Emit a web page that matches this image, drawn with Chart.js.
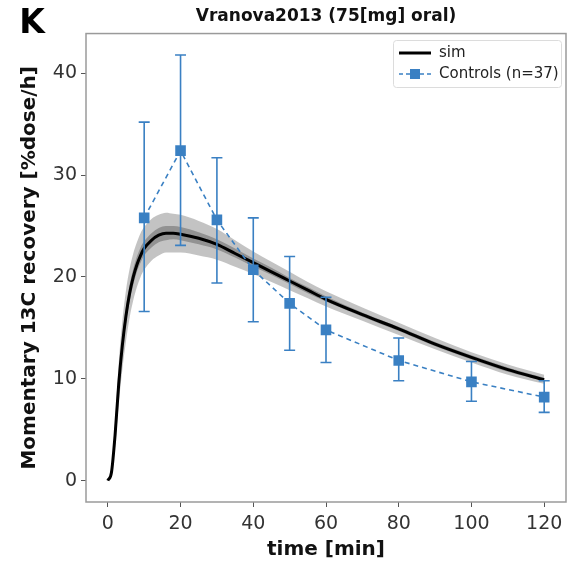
<!DOCTYPE html>
<html>
<head>
<meta charset="utf-8">
<script src="https://cdn.jsdelivr.net/npm/chart.js@4/dist/chart.umd.min.js"></script>
<style>
  html, body { margin: 0; padding: 0; background: #fff; }
  #wrap { width: 574px; height: 563px; }
</style>
</head>
<body>
<div id="wrap"><canvas id="chart" width="574" height="563"></canvas></div>
<script>
// Controls (n=37): measured points with error bars
const obsTime = [10, 20, 30, 40, 50, 60, 80, 100, 120];
const obsMean = [25.8, 32.4, 25.6, 20.7, 17.4, 14.8, 11.8, 9.7, 8.2];
const obsLow  = [16.6, 23.1, 19.4, 15.6, 12.8, 11.6, 9.8, 7.8, 6.7];
const obsHigh = [35.2, 41.8, 31.7, 25.8, 22.0, 18.0, 14.0, 11.7, 9.8];

// sim: mean curve and two shaded bands
const simTime = [0, 1, 2, 3, 4, 5, 6, 7, 8, 9, 10, 12, 14, 16, 18, 20, 25, 30, 35, 40, 45, 50, 55, 60, 70, 80, 90, 100, 110, 120];
const simMean = [0, 0.8, 4.5, 9.5, 13.3, 16.2, 18.4, 20.0, 21.2, 22.1, 22.8, 23.6, 24.1, 24.3, 24.3, 24.2, 23.8, 23.2, 22.3, 21.4, 20.5, 19.6, 18.7, 17.8, 16.3, 14.9, 13.4, 12.1, 10.9, 9.9];
const simOuterHi = [0, 1.1, 5.7, 11.5, 15.7, 18.7, 20.8, 22.3, 23.4, 24.3, 24.9, 25.7, 26.1, 26.3, 26.2, 26.1, 25.5, 24.7, 23.6, 22.5, 21.5, 20.5, 19.5, 18.6, 17.0, 15.5, 14.0, 12.6, 11.4, 10.4];
const simOuterLo = [0, 0.5, 3.3, 7.5, 10.9, 13.7, 16.0, 17.7, 19.0, 20.0, 20.7, 21.6, 22.1, 22.4, 22.4, 22.4, 22.1, 21.7, 21.0, 20.3, 19.5, 18.7, 17.9, 17.1, 15.7, 14.3, 12.9, 11.6, 10.4, 9.5];
const simInnerHi = [0, 0.9, 4.9, 10.2, 14.1, 17.1, 19.2, 20.8, 22.0, 22.9, 23.5, 24.3, 24.8, 25.0, 25.0, 24.9, 24.4, 23.7, 22.8, 21.8, 20.9, 19.9, 19.0, 18.1, 16.5, 15.1, 13.6, 12.3, 11.1, 10.1];
const simInnerLo = [0, 0.7, 4.1, 8.8, 12.5, 15.4, 17.6, 19.2, 20.5, 21.4, 22.1, 22.9, 23.4, 23.6, 23.7, 23.6, 23.2, 22.7, 21.9, 21.0, 20.2, 19.3, 18.4, 17.6, 16.1, 14.7, 13.2, 11.9, 10.7, 9.8];

const xTicks = [0, 20, 40, 60, 80, 100, 120];
const yTicks = [0, 10, 20, 30, 40];

const BLUE = '#3a80c3';
const FONT = "'DejaVu Sans', sans-serif";

function pts(xs, ys) {
    return xs.map((x, i) => ({ x: x, y: ys[i] }));
}

function band(label, data, color, fill, order) {
    return {
        label: label,
        data: data,
        showLine: true,
        borderWidth: 0,
        borderColor: 'transparent',
        pointRadius: 0,
        backgroundColor: color,
        fill: fill,
        cubicInterpolationMode: 'monotone',
        order: order
    };
}

// frame, error bars, legend and panel letter
const extras = {
    id: 'extras',
    afterDatasetsDraw(chart) {
        const ctx = chart.ctx;
        const xs = chart.scales.x;
        const ys = chart.scales.y;
        ctx.save();
        ctx.strokeStyle = BLUE;
        ctx.lineWidth = 1.6;
        obsTime.forEach((t, i) => {
            const px = xs.getPixelForValue(t);
            const top = ys.getPixelForValue(obsHigh[i]);
            const bot = ys.getPixelForValue(obsLow[i]);
            ctx.beginPath();
            ctx.moveTo(px, top); ctx.lineTo(px, bot);
            ctx.moveTo(px - 5.5, top); ctx.lineTo(px + 5.5, top);
            ctx.moveTo(px - 5.5, bot); ctx.lineTo(px + 5.5, bot);
            ctx.stroke();
        });
        ctx.restore();
    },
    afterDraw(chart) {
        const ctx = chart.ctx;
        const a = chart.chartArea;
        ctx.save();
        // axes frame
        ctx.strokeStyle = '#9a9a9a';
        ctx.lineWidth = 1.5;
        ctx.strokeRect(a.left, a.top, a.right - a.left, a.bottom - a.top);

        // legend
        const lx = 393, ly = 40, lw = 168, lh = 47;
        ctx.fillStyle = 'rgba(255,255,255,0.85)';
        ctx.strokeStyle = '#dcdcdc';
        ctx.lineWidth = 1;
        ctx.beginPath();
        ctx.roundRect(lx + 0.5, ly + 0.5, lw, lh, 3);
        ctx.fill();
        ctx.stroke();

        ctx.strokeStyle = '#000';
        ctx.lineWidth = 3;
        ctx.beginPath();
        ctx.moveTo(399, 53); ctx.lineTo(431, 53);
        ctx.stroke();

        ctx.strokeStyle = BLUE;
        ctx.lineWidth = 1.6;
        ctx.setLineDash([4, 3]);
        ctx.beginPath();
        ctx.moveTo(399, 74); ctx.lineTo(431, 74);
        ctx.stroke();
        ctx.setLineDash([]);
        ctx.fillStyle = BLUE;
        ctx.fillRect(410, 69, 10, 10);

        ctx.fillStyle = '#222';
        ctx.font = '15px ' + FONT;
        ctx.textBaseline = 'middle';
        ctx.textAlign = 'left';
        ctx.fillText('sim', 439, 53);
        ctx.fillText('Controls (n=37)', 439, 74);

        // panel letter
        ctx.fillStyle = '#000';
        ctx.font = 'bold 33px ' + FONT;
        ctx.textAlign = 'center';
        ctx.fillText('K', 32, 24);
        ctx.restore();
    }
};

new Chart(document.getElementById('chart'), {
    type: 'scatter',
    data: {
        datasets: [
            {
                label: 'Controls (n=37)',
                data: pts(obsTime, obsMean),
                showLine: true,
                borderColor: BLUE,
                borderWidth: 1.6,
                borderDash: [5, 4],
                pointStyle: 'rect',
                pointRadius: 7.5,
                pointBackgroundColor: BLUE,
                pointBorderColor: BLUE,
                pointBorderWidth: 0,
                order: 0
            },
            {
                label: 'sim',
                data: pts(simTime, simMean),
                showLine: true,
                borderColor: '#000',
                borderWidth: 3,
                pointRadius: 0,
                cubicInterpolationMode: 'monotone',
                order: 1
            },
            band('inner hi', pts(simTime, simInnerHi), 'rgba(105,105,105,0.55)', '+1', 2),
            band('inner lo', pts(simTime, simInnerLo), 'transparent', false, 3),
            band('outer hi', pts(simTime, simOuterHi), 'rgba(175,175,175,0.75)', '+1', 4),
            band('outer lo', pts(simTime, simOuterLo), 'transparent', false, 5)
        ]
    },
    options: {
        responsive: false,
        animation: false,
        devicePixelRatio: 1,
        layout: { padding: { left: 0, right: 8, top: 0, bottom: 0 } },
        plugins: {
            legend: { display: false },
            tooltip: { enabled: false },
            filler: { propagate: false },
            title: {
                display: true,
                fullSize: false,
                text: 'Vranova2013 (75[mg] oral)',
                color: '#111',
                font: { family: FONT, size: 17, weight: 'bold', lineHeight: 1.15 },
                padding: { top: 7, bottom: 7 }
            }
        },
        scales: {
            x: {
                type: 'linear',
                min: -6,
                max: 126,
                afterBuildTicks: s => { s.ticks = xTicks.map(v => ({ value: v })); },
                afterFit: s => { s.height = 61; },
                ticks: {
                    color: '#333',
                    font: { family: FONT, size: 19 },
                    padding: 6,
                    maxRotation: 0
                },
                grid: { display: true, drawOnChartArea: false, tickLength: 5, tickColor: '#555' },
                border: { display: false },
                title: {
                    display: true,
                    text: 'time [min]',
                    color: '#111',
                    font: { family: FONT, size: 20, weight: 'bold', lineHeight: 1.2 },
                    padding: { top: 0, bottom: 1 }
                }
            },
            y: {
                type: 'linear',
                min: -2.1,
                max: 43.9,
                afterBuildTicks: s => { s.ticks = yTicks.map(v => ({ value: v })); },
                afterFit: s => { s.width = 86; },
                ticks: {
                    color: '#333',
                    font: { family: FONT, size: 19 },
                    padding: 4
                },
                grid: { display: true, drawOnChartArea: false, tickLength: 5, tickColor: '#555' },
                border: { display: false },
                title: {
                    display: true,
                    text: 'Momentary 13C recovery [%dose/h]',
                    color: '#111',
                    font: { family: FONT, size: 20, weight: 'bold', lineHeight: 1.2 },
                    padding: { top: 18, bottom: 0 }
                }
            }
        }
    },
    plugins: [extras]
});
</script>
</body>
</html>
